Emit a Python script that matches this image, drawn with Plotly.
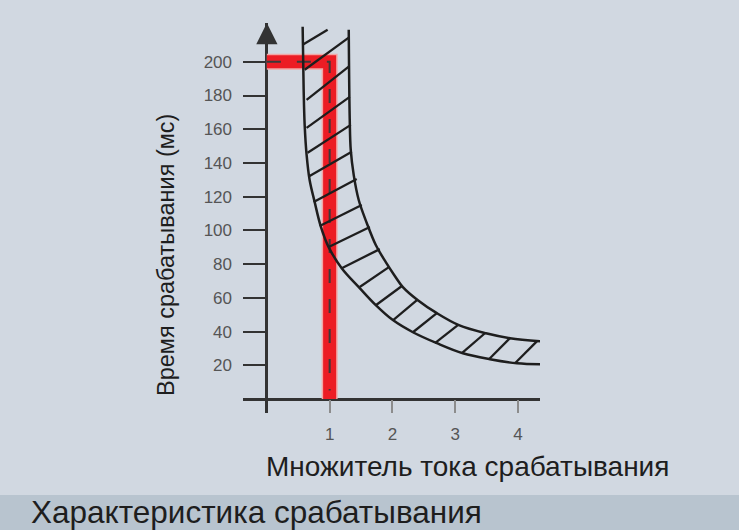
import plotly.graph_objects as go

# --- data ---
x_ticks = [1, 2, 3, 4]
y_ticks = [20, 40, 60, 80, 100, 120, 140, 160, 180, 200]

# lower (fast) boundary of the tripping band
lower_x = [0.570, 0.586, 0.602, 0.633, 0.681, 0.761, 0.857, 0.984, 1.192, 1.479,
           1.735, 2.007, 2.326, 2.707, 3.122, 3.553, 3.984, 4.351]
lower_y = [220.8, 183.4, 162.6, 144.8, 129.9, 116.9, 102.6, 90.1, 77.6, 65.8,
           55.7, 46.8, 39.6, 33.1, 27.1, 23.6, 21.2, 20.6]

# upper (slow) boundary
upper_x = [1.304, 1.320, 1.336, 1.383, 1.463, 1.591, 1.735, 1.894, 2.038, 2.166,
           2.405, 2.707, 3.058, 3.489, 3.872, 4.351]
upper_y = [219.0, 165.6, 147.7, 132.9, 118.0, 104.4, 91.3, 81.2, 73.0, 66.4,
           58.6, 50.9, 43.8, 39.0, 36.1, 34.3]

# hatch strokes between the two boundaries (start on lower, end on upper)
hatch_x0 = [0.570, 0.602, 0.633, 0.633, 0.649, 0.681, 0.745, 0.841, 0.984, 1.192,
            1.479, 1.735, 2.007, 2.326, 2.677, 3.106, 3.537, 3.952]
hatch_y0 = [210.1, 195.3, 177.4, 160.8, 146.0, 132.3, 116.9, 102.6, 90.1, 77.6,
            66.4, 55.6, 46.7, 39.6, 33.1, 27.2, 23.6, 21.2]
hatch_x1 = [0.968, 1.304, 1.304, 1.320, 1.336, 1.352, 1.431, 1.511, 1.640, 1.799,
            1.943, 2.151, 2.390, 2.707, 3.042, 3.473, 3.872, 4.303]
hatch_y1 = [219.0, 214.3, 197.1, 179.2, 162.6, 146.6, 130.5, 115.1, 102.0, 88.9,
            78.2, 67.0, 58.6, 50.9, 43.8, 39.0, 36.1, 34.3]

# rated setting: 200 ms at multiplier 1
set_x = [0, 1, 1]
set_y = [200, 200, 0]
guide_x = [0, 1, 1]
guide_y = [200, 200, 5]

# --- geometry of the page ---
W, H = 739, 530
L, R, T, B = 243, 540, 23, 413
xr = [-0.38, 4.35]
yr = [-8.3, 223]


def px_x(p):
    return (p - L) / (R - L)


def px_y(p):
    return (B - p) / (B - T)


bg = "#d1d8e1"
ink = "#1e1e1e"
font = "Liberation Sans, Arial, sans-serif"

hx, hy = [], []
for a, b, c, d in zip(hatch_x0, hatch_y0, hatch_x1, hatch_y1):
    hx += [a, c, None]
    hy += [b, d, None]

fig = go.Figure()
fig.add_trace(go.Scatter(x=set_x, y=set_y, mode="lines",
                         line=dict(color="#f2a6a6", width=16), hoverinfo="skip"))
fig.add_trace(go.Scatter(x=set_x, y=set_y, mode="lines",
                         line=dict(color="#ec1c24", width=13), hoverinfo="skip"))
fig.add_trace(go.Scatter(x=guide_x, y=guide_y, mode="lines",
                         line=dict(color="#3a3a3a", width=2, dash="14px,16px"),
                         hoverinfo="skip"))
fig.add_trace(go.Scatter(x=hx, y=hy, mode="lines",
                         line=dict(color=ink, width=2.3), hoverinfo="skip"))
fig.add_trace(go.Scatter(x=lower_x, y=lower_y, mode="lines",
                         line=dict(color=ink, width=2.5, shape="spline"),
                         hoverinfo="skip"))
fig.add_trace(go.Scatter(x=upper_x, y=upper_y, mode="lines",
                         line=dict(color=ink, width=2.5, shape="spline"),
                         hoverinfo="skip"))

fig.update_layout(
    width=W, height=H,
    margin=dict(l=L, r=W - R, t=T, b=H - B),
    paper_bgcolor=bg, plot_bgcolor=bg,
    showlegend=False,
    font=dict(family=font, color=ink),
    xaxis=dict(range=xr, showgrid=False, showline=False,
               zeroline=True, zerolinecolor="#333333", zerolinewidth=2.5,
               tickvals=x_ticks, ticks="inside", ticklen=13, tickwidth=1.5,
               tickcolor="#8c8c8c", tickfont=dict(size=17, color="#555555"),
               ticklabelstandoff=9),
    yaxis=dict(range=yr, showgrid=False, showline=False,
               zeroline=True, zerolinecolor="#333333", zerolinewidth=2.5,
               tickvals=y_ticks, ticks="inside", ticklen=22, tickwidth=2,
               tickcolor="#333333", tickfont=dict(size=17, color="#555555"),
               ticklabelstandoff=10),
    shapes=[dict(type="rect", xref="paper", yref="paper", layer="below",
                 x0=px_x(0), x1=px_x(W), y0=px_y(H), y1=px_y(495),
                 fillcolor="#b8c4cf", line=dict(width=0))],
    annotations=[
        # arrow head on the time axis
        dict(x=0, y=yr[1], ax=0, ay=211, xref="x", yref="y", axref="x", ayref="y",
             text="", showarrow=True, arrowhead=2, arrowsize=1.7, arrowwidth=2.5,
             arrowcolor="#333333"),
        dict(text="Множитель тока срабатывания", xref="paper", yref="paper",
             x=px_x(264), y=px_y(466), xanchor="left", yanchor="middle",
             showarrow=False, font=dict(size=28, color=ink)),
        dict(text="Время срабатывания (мс)", xref="paper", yref="paper",
             x=px_x(166), y=px_y(398), xanchor="center", yanchor="bottom",
             textangle=-90, showarrow=False, font=dict(size=23.5, color=ink)),
        dict(text="Характеристика срабатывания", xref="paper", yref="paper",
             x=px_x(29), y=px_y(512), xanchor="left", yanchor="middle",
             showarrow=False, font=dict(size=31.5, color=ink)),
    ],
)

fig.write_html("out.html", config={"displayModeBar": False},
               post_script="document.body.style.margin='0';")
